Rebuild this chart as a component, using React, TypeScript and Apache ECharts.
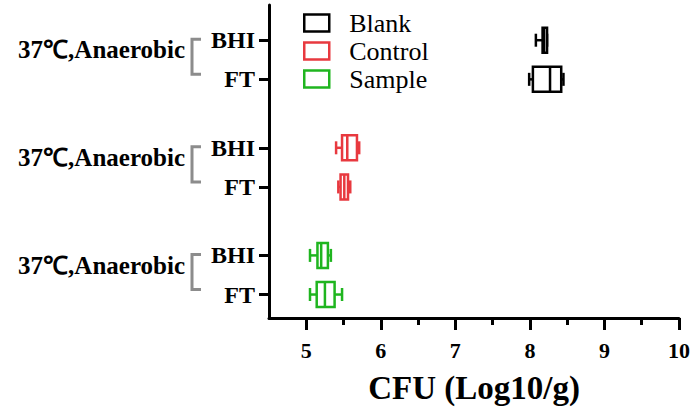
import React, { useEffect, useRef } from "react";
import * as echarts from "echarts";

// ---- data ----
const seriesNames = ["Blank", "Control", "Sample"];
const rowLabels = ["BHI", "FT"];
const groupLabel = "37℃,Anaerobic";
// [min, Q1, median, Q3, max] for BHI and FT rows
const blankBHI = [8.08, 8.17, 8.19, 8.23, 8.23];
const blankFT = [7.99, 8.04, 8.27, 8.42, 8.45];
const controlBHI = [5.4, 5.48, 5.55, 5.68, 5.71];
const controlFT = [5.43, 5.46, 5.51, 5.56, 5.59];
const sampleBHI = [5.05, 5.15, 5.2, 5.29, 5.33];
const sampleFT = [5.05, 5.14, 5.25, 5.38, 5.48];
const majorTicks = [5, 6, 7, 8, 9, 10];
const minorTicks = [5.5, 6.5, 7.5, 8.5, 9.5];

// ---- layout constants ----
const groupStart = [0, 2.75, 5.5];
const colors = ["#000000", "#e8393f", "#1fb51f"];
const serif = "Liberation Serif, Times New Roman, serif";

const groups = [
  [blankBHI, blankFT],
  [controlBHI, controlFT],
  [sampleBHI, sampleFT],
];

const rowPositions: number[] = [];
groupStart.forEach((g) => {
  rowPositions.push(g, g + 1);
});
const groupLabelPositions = groupStart.map((g) => g + 0.25);

function renderBox(params: any, api: any) {
  const pos = api.value(0);
  const vMin = api.coord([api.value(1), pos]);
  const q1 = api.coord([api.value(2), pos]);
  const med = api.coord([api.value(3), pos]);
  const q3 = api.coord([api.value(4), pos]);
  const vMax = api.coord([api.value(5), pos]);
  const y = vMin[1];
  const h = 25;
  const capH = 13;
  const color = colors[params.seriesIndex];
  const st = { stroke: color, lineWidth: 2.5, fill: null };
  return {
    type: "group",
    children: [
      { type: "line", shape: { x1: vMin[0], y1: y, x2: q1[0], y2: y }, style: st },
      { type: "line", shape: { x1: q3[0], y1: y, x2: vMax[0], y2: y }, style: st },
      { type: "line", shape: { x1: vMin[0], y1: y - capH / 2, x2: vMin[0], y2: y + capH / 2 }, style: st },
      { type: "line", shape: { x1: vMax[0], y1: y - capH / 2, x2: vMax[0], y2: y + capH / 2 }, style: st },
      {
        type: "rect",
        shape: { x: q1[0], y: y - h / 2, width: q3[0] - q1[0], height: h },
        style: { stroke: color, lineWidth: 2.5, fill: "#fff" },
      },
      { type: "line", shape: { x1: med[0], y1: y - h / 2, x2: med[0], y2: y + h / 2 }, style: st },
    ],
  };
}

export default function App() {
  const ref = useRef<HTMLDivElement>(null);
  useEffect(() => {
    if (!ref.current) return;
    const chart = echarts.init(ref.current, null, { renderer: "svg" });
    const yMin = -0.9;
    const yMax = 7.1;
    const option: any = {
      animation: false,
      backgroundColor: "#fff",
      grid: { left: 269, right: 16, top: 5, bottom: 97 },
      legend: {
        orient: "vertical",
        left: 298,
        top: 5,
        icon: "rect",
        itemWidth: 25,
        itemHeight: 17,
        itemGap: 2,
        selectedMode: false,
        textStyle: { fontFamily: serif, fontSize: 26, lineHeight: 26, color: "#000", padding: [0, 0, 0, 15] },
        data: seriesNames.map((n, i) => ({
          name: n,
          itemStyle: { color: "#fff", borderColor: colors[i], borderWidth: 2.5 },
        })),
      },
      xAxis: [
        {
          type: "value",
          min: 4.5,
          max: 10,
          position: "bottom",
          name: "CFU (Log10/g)",
          nameLocation: "middle",
          nameGap: 53,
          nameTextStyle: { fontFamily: serif, fontSize: 33, fontWeight: "bold", color: "#000" },
          axisLine: { show: true, onZero: false, lineStyle: { color: "#000", width: 3 } },
          axisTick: { show: true, customValues: majorTicks, length: 12, lineStyle: { color: "#000", width: 3 } },
          axisLabel: {
            customValues: majorTicks,
            margin: 21,
            fontFamily: serif,
            fontSize: 22,
            fontWeight: "bold",
            color: "#000",
          },
          splitLine: { show: false },
        },
        {
          type: "value",
          min: 4.5,
          max: 10,
          position: "bottom",
          axisLine: { show: false, onZero: false },
          axisTick: { show: true, customValues: minorTicks, length: 7, lineStyle: { color: "#000", width: 3 } },
          axisLabel: { show: false },
          splitLine: { show: false },
        },
      ],
      yAxis: [
        {
          type: "value",
          inverse: true,
          min: yMin,
          max: yMax,
          axisLine: { show: true, onZero: false, lineStyle: { color: "#000", width: 3 } },
          axisTick: { show: true, customValues: rowPositions, length: 10, lineStyle: { color: "#000", width: 3 } },
          axisLabel: {
            customValues: rowPositions,
            margin: 14,
            fontFamily: serif,
            fontSize: 24,
            fontWeight: "bold",
            color: "#000",
            formatter: (v: number) => {
              const i = rowPositions.findIndex((p) => Math.abs(p - v) < 1e-6);
              return i >= 0 ? rowLabels[i % 2] : "";
            },
          },
          splitLine: { show: false },
        },
        {
          type: "value",
          inverse: true,
          min: yMin,
          max: yMax,
          position: "left",
          offset: 84,
          axisLine: { show: false, onZero: false },
          axisTick: { show: false },
          axisLabel: {
            customValues: groupLabelPositions,
            margin: 0,
            fontFamily: serif,
            fontSize: 25,
            fontWeight: "bold",
            color: "#000",
            formatter: () => groupLabel,
          },
          splitLine: { show: false },
        },
      ],
      series: groups.map((rows, gi) => ({
        type: "custom",
        name: seriesNames[gi],
        xAxisIndex: 0,
        yAxisIndex: 0,
        itemStyle: { color: colors[gi] },
        renderItem: renderBox,
        encode: { x: [1, 2, 3, 4, 5], y: 0 },
        data: rows.map((r, ri) => [groupStart[gi] + ri, ...r]),
      })),
    };
    chart.setOption(option);

    const brackets: any[] = [];
    groupStart.forEach((g) => {
      const top = chart.convertToPixel({ yAxisIndex: 0 }, g) as number;
      const bot = chart.convertToPixel({ yAxisIndex: 0 }, g + 1) as number;
      const t = top - 1;
      const b = bot - 5;
      brackets.push({
        type: "polyline",
        shape: { points: [[201, t], [192, t], [192, b], [201, b]] },
        style: { stroke: "#8c8c8c", lineWidth: 3, fill: null },
      });
    });
    chart.setOption({ graphic: brackets });

    return () => chart.dispose();
  }, []);
  return <div ref={ref} style={{ position: "absolute", left: 0, top: 0, width: 695, height: 415 }} />;
}
